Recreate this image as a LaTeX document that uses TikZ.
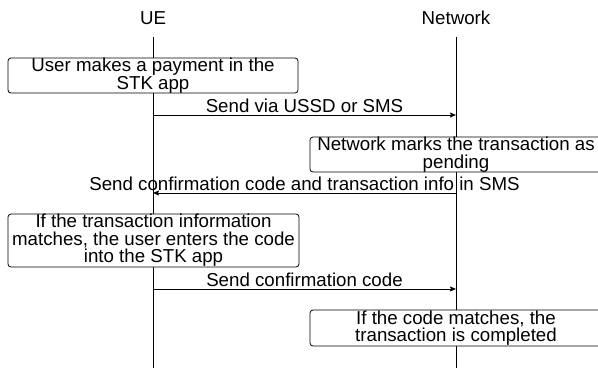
\documentclass[tikz,border=0pt]{standalone}
\usepackage{fontspec}
\setmainfont{Liberation Sans}
\usetikzlibrary{arrows.meta}

\begin{document}
\begin{tikzpicture}[x=1pt,y=1pt,>={Stealth[length=6pt,width=5pt,inset=1pt]},
  every node/.style={font=\fontsize{18.7}{17.5}\selectfont},
  actbox/.style={draw,line width=0.8pt,rounded corners=3pt,fill=white,align=center,inner sep=0pt},
  msg/.style={->,line width=0.8pt}]
\useasboundingbox (0,0) rectangle (598,-368);
% lifelines
\node (ue) at (153,-18) {UE};
\node (net) at (456,-18) {Network};
\coordinate (uetop) at (153,-37);
\coordinate (uebot) at (153,-368);
\coordinate (nettop) at (456,-37);
\coordinate (netbot) at (456,-368);
\draw[line width=0.8pt] (uetop) -- (uebot);
\draw[line width=0.8pt] (nettop) -- (netbot);
% steps
\node[actbox,minimum width=290,minimum height=35] (pay) at (153,-75.5) {User makes a payment in the\\STK app};
\node[actbox,minimum width=292,minimum height=35] (pend) at (456,-154.5) {Network marks the transaction as\\pending};
\node[actbox,minimum width=291,minimum height=53] (match) at (153.5,-240.5) {If the transaction information\\matches, the user enters the code\\into the STK app};
\node[actbox,minimum width=292,minimum height=36] (done) at (456,-328) {If the code matches, the\\transaction is completed};
% messages
\coordinate (m1a) at (153,-115);
\coordinate (m1b) at (456,-115);
\coordinate (m2a) at (456,-193);
\coordinate (m2b) at (153,-193);
\coordinate (m3a) at (153,-289);
\coordinate (m3b) at (456,-289);
\draw[msg] (m1a) -- (m1b) node[midway,anchor=base,yshift=3pt]{Send via USSD or SMS};
\draw[msg] (m2a) -- (m2b) node[midway,anchor=base,yshift=3pt]{Send confirmation code and transaction info in SMS};
\draw[msg] (m3a) -- (m3b) node[midway,anchor=base,yshift=3pt]{Send confirmation code};
\end{tikzpicture}
\end{document}
